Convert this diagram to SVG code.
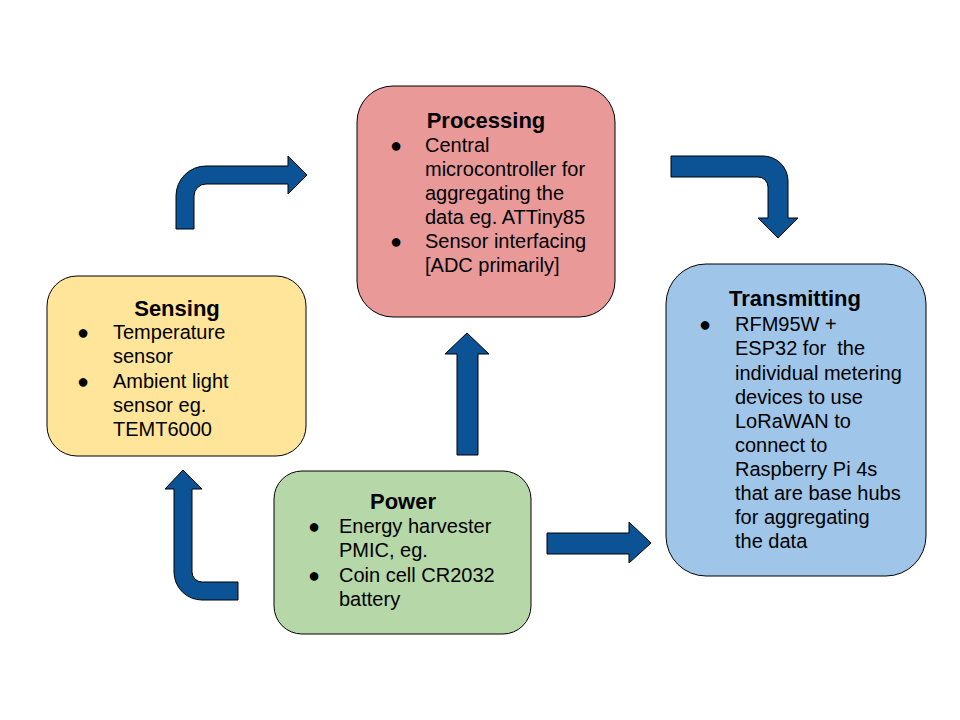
<svg xmlns="http://www.w3.org/2000/svg" width="960" height="720" viewBox="0 0 960 720">
<style>
.box{stroke:#000;stroke-width:1}
.t{font-family:"Liberation Sans",Arial,sans-serif;font-size:20px;fill:#000}
.b{font-family:"Liberation Sans",Arial,sans-serif;font-size:20px;fill:#000;text-anchor:middle}
.h{font-family:"Liberation Sans",Arial,sans-serif;font-size:22px;font-weight:bold;fill:#000;text-anchor:middle}
.arr{fill:#0b5394;stroke:#000;stroke-width:1}
</style>
<rect width="960" height="720" fill="#fff"/>
<g id="connectors">
<path class="arr" d="M176,229 L176,196 A30,30 0 0 1 206,166 L288,166 L288,156 L307,175 L288,194 L288,184 L206,184 A12,12 0 0 0 194,196 L194,229 Z"/>
<path class="arr" d="M671,156 L763,156 A25,25 0 0 1 788,181 L788,218 L798,218 L778,238 L758,218 L768,218 L768,187 A10,10 0 0 0 758,177 L671,177 Z"/>
<path class="arr" d="M183,470 L202,489 L192,489 L192,572 A10,10 0 0 0 202,582 L238,582 L238,600 L202,600 A28,28 0 0 1 174,572 L174,489 L165,489 Z"/>
<path class="arr" d="M467,333 L489,354 L478,354 L478,455 L457,455 L457,354 L445,354 Z"/>
<path class="arr" d="M547,533 L629,533 L629,522 L651,543 L629,563 L629,554 L547,554 Z"/>
</g>
<g id="processing">
<rect class="box" x="357" y="86" width="258" height="231" rx="36" fill="#ea9999"/>
<text class="h" x="486" y="128">Processing</text>
<text class="b" x="396" y="152">●</text>
<text class="t" x="425" y="152">Central</text>
<text class="t" x="425" y="176">microcontroller for</text>
<text class="t" x="425" y="200">aggregating the</text>
<text class="t" x="425" y="224">data eg. ATTiny85</text>
<text class="b" x="396" y="248">●</text>
<text class="t" x="425" y="248">Sensor interfacing</text>
<text class="t" x="425" y="272">[ADC primarily]</text>
</g>
<g id="sensing">
<rect class="box" x="47" y="276" width="259" height="180" rx="30" fill="#ffe599"/>
<text class="h" x="177" y="316">Sensing</text>
<text class="b" x="83" y="339">●</text>
<text class="t" x="113" y="339">Temperature</text>
<text class="t" x="113" y="363">sensor</text>
<text class="b" x="83" y="388">●</text>
<text class="t" x="113" y="388">Ambient light</text>
<text class="t" x="113" y="412">sensor eg.</text>
<text class="t" x="113" y="436">TEMT6000</text>
</g>
<g id="power">
<rect class="box" x="274" y="471" width="257" height="163" rx="28" fill="#b6d7a8"/>
<text class="h" x="403" y="509">Power</text>
<text class="b" x="314" y="533">●</text>
<text class="t" x="339" y="533">Energy harvester</text>
<text class="t" x="339" y="557">PMIC, eg.</text>
<text class="b" x="314" y="582">●</text>
<text class="t" x="339" y="582">Coin cell CR2032</text>
<text class="t" x="339" y="606">battery</text>
</g>
<g id="transmitting">
<rect class="box" x="666" y="264" width="260" height="312" rx="40" fill="#9fc5e8"/>
<text class="h" x="795" y="306">Transmitting</text>
<text class="b" x="705" y="331">●</text>
<text class="t" x="735" y="331">RFM95W +</text>
<text class="t" x="735" y="355" xml:space="preserve">ESP32 for  the</text>
<text class="t" x="735" y="380">individual metering</text>
<text class="t" x="735" y="404">devices to use</text>
<text class="t" x="735" y="428">LoRaWAN to</text>
<text class="t" x="735" y="452">connect to</text>
<text class="t" x="735" y="476">Raspberry Pi 4s</text>
<text class="t" x="735" y="500">that are base hubs</text>
<text class="t" x="735" y="524">for aggregating</text>
<text class="t" x="735" y="548">the data</text>
</g>
</svg>
